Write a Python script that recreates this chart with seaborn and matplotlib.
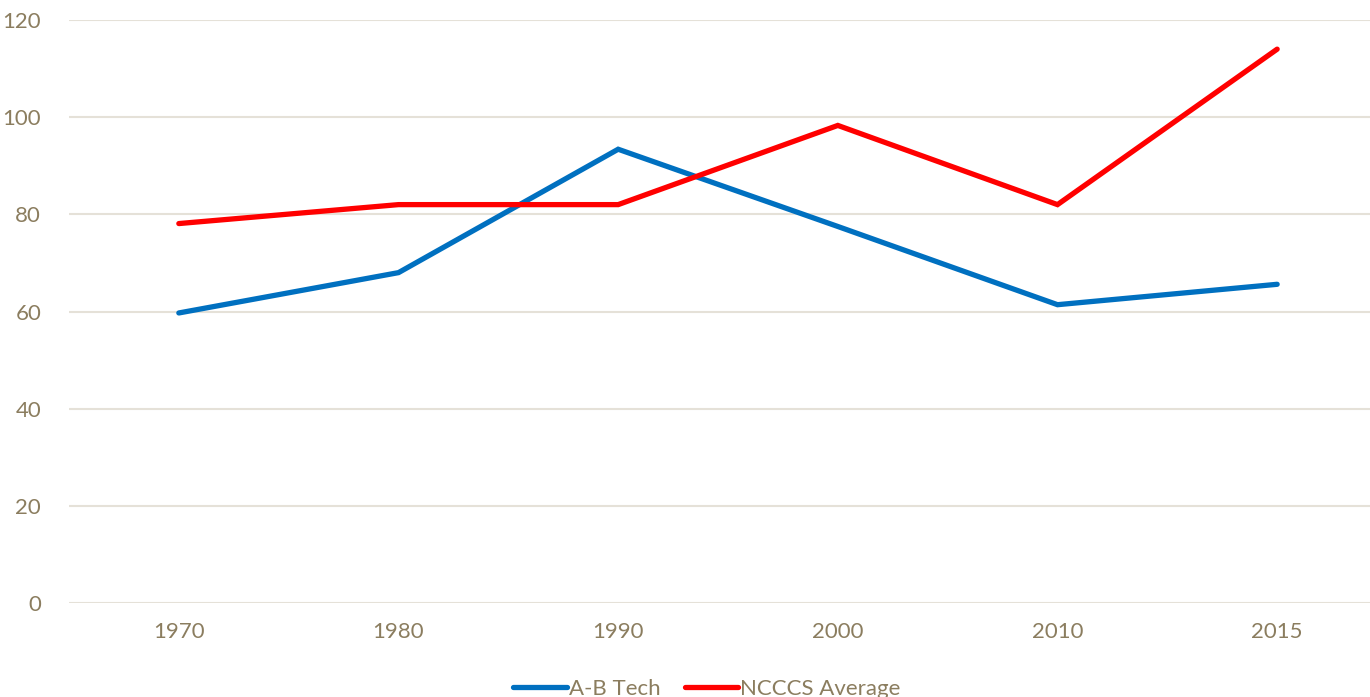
import pandas as pd
import matplotlib.pyplot as plt
import seaborn as sns

# Values
years = ["1970", "1980", "1990", "2000", "2010", "2015"]
ab_tech = [59.7, 68.0, 93.4, 77.5, 61.4, 65.6]
ncccs_avg = [78.1, 82.0, 82.0, 98.3, 82.0, 114.0]
series_names = ["A-B Tech", "NCCCS Average"]

df = pd.DataFrame({
    "year": years * 2,
    "value": ab_tech + ncccs_avg,
    "series": [series_names[0]] * len(years) + [series_names[1]] * len(years),
})

sns.set_style("white")
plt.rcParams["font.family"] = ["Lato", "DejaVu Sans"]
text_color = "#8B7D5F"
grid_color = "#E5E1D8"

fig = plt.figure(figsize=(13.7, 6.97), dpi=100)
ax = fig.add_axes([69 / 1370, 94 / 697, (1387 - 69) / 1370, (603 - 20) / 697])

sns.lineplot(data=df, x="year", y="value", hue="series", sort=False,
             palette={"A-B Tech": "#0070C0", "NCCCS Average": "#FF0000"},
             linewidth=3.8, ax=ax, legend=True)
for line in ax.lines:
    line.set_solid_capstyle("round")
    line.set_solid_joinstyle("miter")

ax.set_xlim(-0.5, len(years) - 0.5)
ax.set_ylim(0, 120)
ax.set_yticks(range(0, 121, 20))
ax.yaxis.grid(True, color=grid_color, linewidth=1.5)
ax.set_axisbelow(True)
for s in ax.spines.values():
    s.set_visible(False)
ax.set_xlabel("")
ax.set_ylabel("")
ax.tick_params(axis="both", length=0, labelsize=16, labelcolor=text_color)
ax.tick_params(axis="y", pad=20)
ax.tick_params(axis="x", pad=14)

handles, labels = ax.get_legend_handles_labels()
ax.get_legend().remove()
leg = fig.legend(handles, labels, loc="center", ncol=2,
                 bbox_to_anchor=(707 / 1370, 8 / 697), frameon=False,
                 fontsize=16, handlelength=2.4, handletextpad=0.1,
                 columnspacing=1.1)
for t in leg.get_texts():
    t.set_color(text_color)
for h in leg.get_lines():
    h.set_linewidth(3.8)
    h.set_solid_capstyle("round")

fig.savefig("out.png", dpi=100)
